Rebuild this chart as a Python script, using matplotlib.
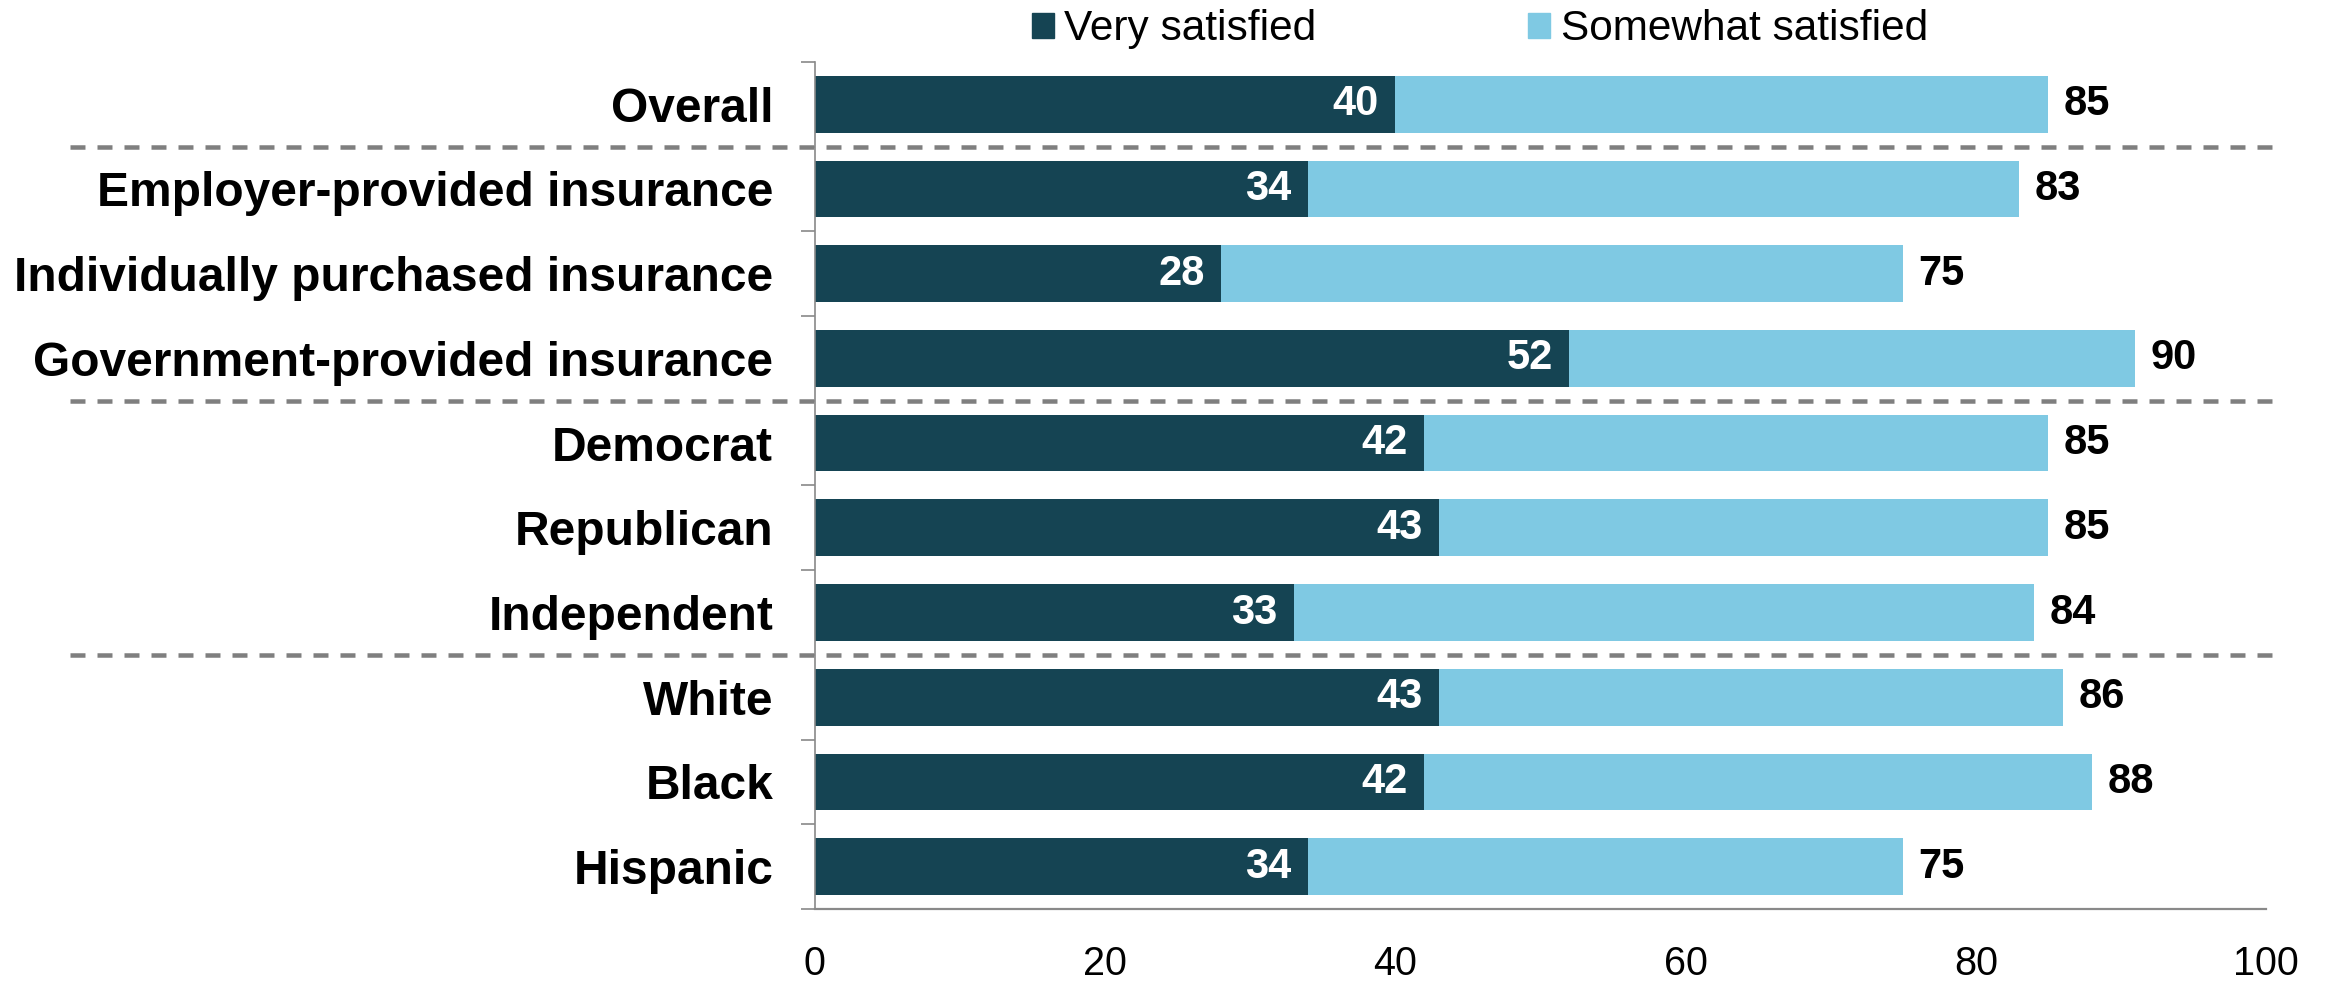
import matplotlib
matplotlib.use("Agg")
import matplotlib.pyplot as plt
from matplotlib.patches import Patch
from matplotlib.transforms import blended_transform_factory

plt.rcParams["font.family"] = ["Liberation Sans", "DejaVu Sans"]

# data
categories = [
    "Overall",
    "Employer-provided insurance",
    "Individually purchased insurance",
    "Government-provided insurance",
    "Democrat",
    "Republican",
    "Independent",
    "White",
    "Black",
    "Hispanic",
]
very_satisfied = [40, 34, 28, 52, 42, 43, 33, 43, 42, 34]
somewhat_satisfied = [45, 49, 47, 39, 43, 42, 51, 43, 46, 41]
total_labels = [85, 83, 75, 90, 85, 85, 84, 86, 88, 75]
group_breaks = [0.5, 3.5, 6.5]
x_ticks = [0, 20, 40, 60, 80, 100]

dark = "#154453"
light = "#7fc9e3"
grey = "#898989"

fig = plt.figure(figsize=(23.28, 9.83), dpi=100)
ax = fig.add_axes([0.350, 0.0753, 0.6234, 0.8617])

y = list(range(len(categories)))
ax.barh(y, very_satisfied, height=0.67, color=dark)
ax.barh(y, somewhat_satisfied, left=very_satisfied, height=0.67, color=light)

for i in y:
    ax.annotate(str(very_satisfied[i]), (very_satisfied[i], i), xytext=(-12, 0),
                textcoords="offset points", ha="right", va="center",
                color="white", fontsize=30, fontweight="bold")
    end = very_satisfied[i] + somewhat_satisfied[i]
    ax.annotate(str(total_labels[i]), (end, i), xytext=(11, 0),
                textcoords="offset points", ha="left", va="center",
                color="black", fontsize=30, fontweight="bold")

ax.set_xlim(0, 100)
ax.set_ylim(len(categories) - 0.5, -0.5)
ax.set_xticks(x_ticks)
ax.set_xticklabels([str(v) for v in x_ticks], fontsize=28.5)
ax.set_yticks(y)
ax.set_yticklabels(categories, fontsize=34.5, fontweight="bold")
ax.set_yticks([i - 0.5 for i in range(len(categories) + 1)], minor=True)
ax.tick_params(axis="y", which="major", length=0, pad=30)
ax.tick_params(axis="y", which="minor", length=10, width=1.2, color=grey)
ax.tick_params(axis="x", length=0, pad=26)

for side in ["top", "right"]:
    ax.spines[side].set_visible(False)
ax.spines["left"].set_color(grey)
ax.spines["left"].set_linewidth(1.2)
ax.spines["bottom"].set_color(grey)
ax.spines["bottom"].set_linewidth(1.6)

trans = blended_transform_factory(ax.transAxes, ax.transData)
for b in group_breaks:
    line, = ax.plot([-0.513, 1.010], [b, b], transform=trans, color="#7f7f7f",
                    lw=3.24, clip_on=False, solid_capstyle="butt")
    line.set_linestyle((0, (3.33, 2.67)))

handles = [Patch(color=dark, label="Very satisfied"),
           Patch(color=light, label="Somewhat satisfied")]
fig.legend(handles=handles, loc="center", bbox_to_anchor=(0.6357, 0.9700),
           ncol=2, frameon=False, fontsize=30.5, handlelength=0.52,
           handleheight=0.52, handletextpad=0.24, columnspacing=5.0,
           borderpad=0, borderaxespad=0)

fig.savefig("out.png", dpi=100)
